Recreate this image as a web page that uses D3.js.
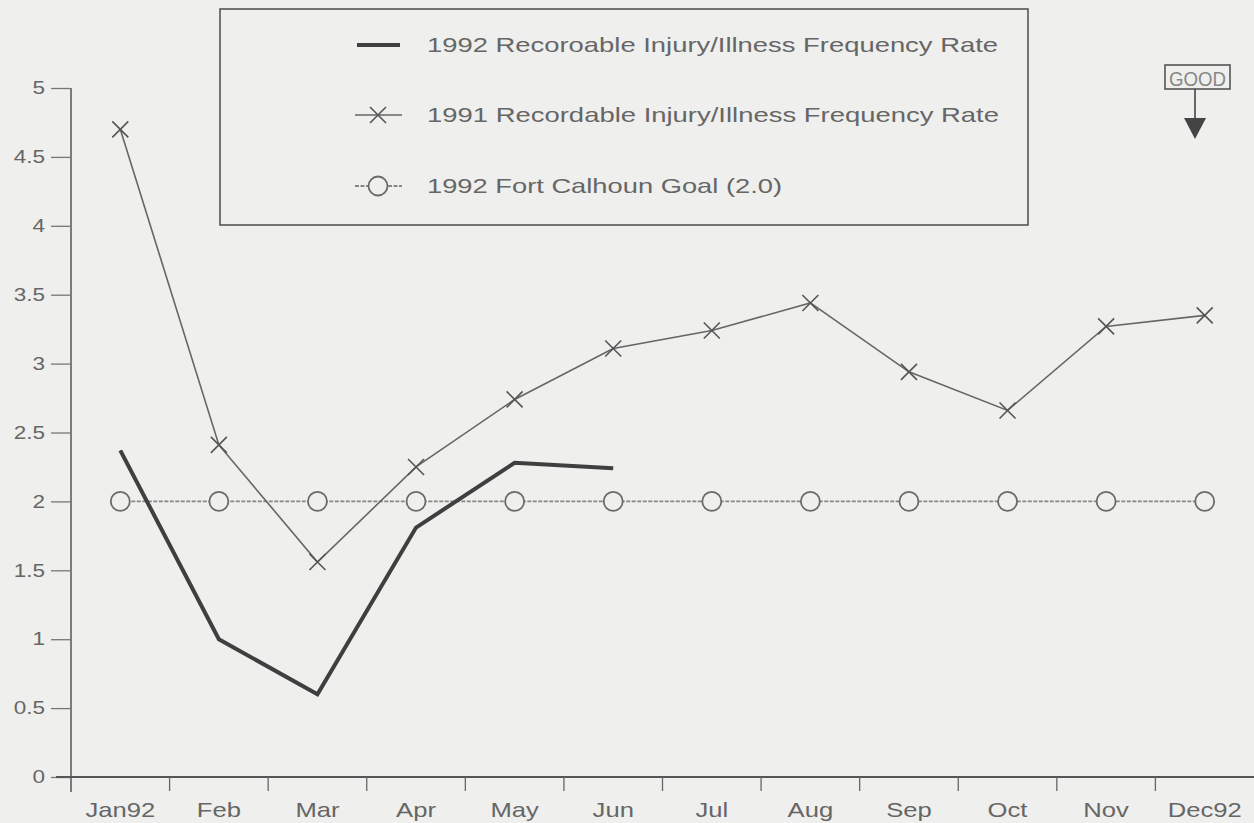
<!DOCTYPE html>
<html><head><meta charset="utf-8">
<script src="https://cdn.jsdelivr.net/npm/d3@7"></script>
<style>html,body{margin:0;padding:0;background:#efefed;}svg{display:block;}</style>
</head><body>
<svg id="c" width="1254" height="823"></svg>
<script>
const months = ["Jan92","Feb","Mar","Apr","May","Jun","Jul","Aug","Sep","Oct","Nov","Dec92"];
const rate1992 = [2.37, 1.0, 0.6, 1.81, 2.28, 2.24];
const rate1991 = [4.70, 2.41, 1.56, 2.25, 2.74, 3.11, 3.24, 3.44, 2.94, 2.66, 3.27, 3.35];
const goal1992 = [2,2,2,2,2,2,2,2,2,2,2,2];
const yTicks = [0,0.5,1,1.5,2,2.5,3,3.5,4,4.5,5];
const legendLabels = ["1992 Recoroable Injury/Illness Frequency Rate","1991 Recordable Injury/Illness Frequency Rate","1992 Fort Calhoun Goal (2.0)"];

const svg = d3.select("#c");
const font = "Liberation Sans, Arial, sans-serif";
const x = d3.scaleBand().domain(months).range([71,1254]);
const y = d3.scaleLinear().domain([0,5]).range([777,88]);
const cx = m => x(m) + x.bandwidth()/2;
const stretch = (sel, k) => sel.each(function(){ const w=this.getComputedTextLength(); d3.select(this).attr("textLength", w*k).attr("lengthAdjust","spacingAndGlyphs"); });

// y axis
const ya = svg.append("g").attr("transform","translate(71,0)")
  .call(d3.axisLeft(y).tickValues(yTicks).tickSize(20).tickPadding(6).tickFormat(d=>String(d)));
ya.select(".domain").attr("stroke","#555").attr("stroke-width",1.5).attr("d","M0,"+y(5)+"V"+(y(0)+15));
ya.selectAll(".tick line").attr("stroke","#777").attr("stroke-width",1.3).attr("x1",-1);
ya.selectAll(".tick text").attr("fill","#666").attr("font-size",18).attr("font-family",font).call(stretch,1.25);

// x axis
const xa = svg.append("g").attr("transform","translate(0,777)")
  .call(d3.axisBottom(x).tickSize(0).tickPadding(25));
xa.select(".domain").attr("stroke","#555").attr("stroke-width",2).attr("d","M56,0H1254");
xa.selectAll(".tick text").attr("fill","#666").attr("font-size",21).attr("font-family",font).call(stretch,1.22);
xa.selectAll(".sep").data(months.slice(1)).enter().append("line")
  .attr("x1",d=>x(d)).attr("x2",d=>x(d)).attr("y1",0).attr("y2",14)
  .attr("stroke","#666").attr("stroke-width",1.3);

const line = d3.line().x((d,i)=>cx(months[i])).y(d=>y(d));

// goal line
svg.append("path").datum(goal1992).attr("d",line).attr("fill","none")
  .attr("stroke","#888").attr("stroke-width",1.8).attr("stroke-dasharray","4,1.5");
svg.selectAll(".goal").data(goal1992).enter().append("circle")
  .attr("cx",(d,i)=>cx(months[i])).attr("cy",d=>y(d)).attr("r",9.5)
  .attr("fill","#efefed").attr("stroke","#6a6a6a").attr("stroke-width",1.8);

// 1991 line
svg.append("path").datum(rate1991).attr("d",line).attr("fill","none")
  .attr("stroke","#666").attr("stroke-width",1.6);
const xs = 8;
svg.selectAll(".xm").data(rate1991).enter().append("path")
  .attr("d",(d,i)=>{const px=cx(months[i]),py=y(d);return `M${px-xs},${py-xs}L${px+xs},${py+xs}M${px-xs},${py+xs}L${px+xs},${py-xs}`;})
  .attr("stroke","#555").attr("stroke-width",1.6).attr("fill","none");

// 1992 line
svg.append("path").datum(rate1992).attr("d",line).attr("fill","none")
  .attr("stroke","#3f3f3f").attr("stroke-width",4).attr("stroke-linejoin","miter");

// legend
const lg = svg.append("g");
lg.append("rect").attr("x",220).attr("y",9).attr("width",808).attr("height",216)
  .attr("fill","#efefed").attr("stroke","#555").attr("stroke-width",1.6);
const ly = [45,115,186];
lg.append("line").attr("x1",357).attr("x2",400).attr("y1",ly[0]).attr("y2",ly[0]).attr("stroke","#3f3f3f").attr("stroke-width",4);
lg.append("line").attr("x1",355).attr("x2",402).attr("y1",ly[1]).attr("y2",ly[1]).attr("stroke","#666").attr("stroke-width",1.6);
lg.append("path").attr("d",`M${378-8},${ly[1]-8}L${378+8},${ly[1]+8}M${378-8},${ly[1]+8}L${378+8},${ly[1]-8}`).attr("stroke","#555").attr("stroke-width",1.6);
lg.append("line").attr("x1",355).attr("x2",402).attr("y1",ly[2]).attr("y2",ly[2]).attr("stroke","#888").attr("stroke-width",1.8).attr("stroke-dasharray","4,1.5");
lg.append("circle").attr("cx",378).attr("cy",ly[2]).attr("r",9.5).attr("fill","#efefed").attr("stroke","#6a6a6a").attr("stroke-width",1.8);
const lens = [571, 572, 355];
lg.selectAll(".lt").data(legendLabels).enter().append("text")
  .attr("x",427).attr("y",(d,i)=>ly[i]+7).attr("font-size",21).attr("font-family",font)
  .attr("fill","#666").attr("textLength",(d,i)=>lens[i]).attr("lengthAdjust","spacingAndGlyphs").text(d=>d);

// GOOD indicator
const g = svg.append("g");
g.append("rect").attr("x",1165).attr("y",65).attr("width",65).attr("height",24)
  .attr("fill","#efefed").attr("stroke","#555").attr("stroke-width",1.6);
g.append("text").attr("x",1197.5).attr("y",86).attr("text-anchor","middle").attr("font-size",21)
  .attr("font-family",font).attr("fill","#888").attr("textLength",57).attr("lengthAdjust","spacingAndGlyphs").text("GOOD");
g.append("line").attr("x1",1195).attr("x2",1195).attr("y1",89).attr("y2",122).attr("stroke","#444").attr("stroke-width",1.6);
g.append("path").attr("d","M1184,118L1206,118L1195,139Z").attr("fill","#444");
</script>
</body></html>
